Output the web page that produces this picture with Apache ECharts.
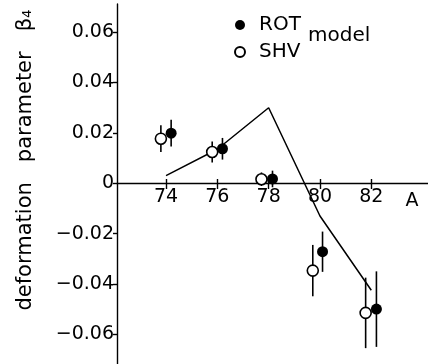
<!DOCTYPE html>
<html>
<head>
<meta charset="utf-8">
<script src="https://cdn.jsdelivr.net/npm/echarts@6/dist/echarts.min.js"></script>
<style>
  html, body { margin: 0; padding: 0; background: #fff; }
  #chart { width: 428px; height: 364px; }
</style>
</head>
<body>
<div id="chart"></div>
<script>
// tick positions
var xTicks = [74, 76, 78, 80, 82];
var yTicks = [-0.06, -0.04, -0.02, 0, 0.02, 0.04, 0.06];

// ROT model (filled circles)
var rotX = [74.2, 76.2, 78.15, 80.1, 82.2];
var rotY = [0.0199, 0.0137, 0.0017, -0.0272, -0.0500];
var rotErr = [0.0053, 0.0043, 0.0033, 0.0080, 0.0150];

// SHV model (open circles)
var shvX = [73.8, 75.8, 77.72, 79.72, 81.78];
var shvY = [0.0177, 0.0124, 0.0016, -0.0347, -0.0515];
var shvErr = [0.0053, 0.0042, 0.0027, 0.0102, 0.0140];

// calculated line
var modelX = [74, 76, 78, 80, 82];
var modelY = [0.0030, 0.0135, 0.0300, -0.0130, -0.0425];

var FONT = 'DejaVu Sans';
var Y_MIN = -0.0718, Y_MAX = 0.0712;
var GRID_TOP = 4, GRID_H = 360;
// x axis sits on y = 0, so lift it from the grid bottom
var zeroLift = -Math.round(GRID_H * (0 - Y_MIN) / (Y_MAX - Y_MIN));

function pairs(xs, ys) {
  return xs.map(function (x, i) { return [x, ys[i]]; });
}
function bars(xs, ys, es) {
  return xs.map(function (x, i) { return [x, ys[i] - es[i], ys[i] + es[i]]; });
}
function renderBar(params, api) {
  var lo = api.coord([api.value(0), api.value(1)]);
  var hi = api.coord([api.value(0), api.value(2)]);
  return {
    type: 'line',
    shape: { x1: lo[0], y1: lo[1], x2: hi[0], y2: hi[1] },
    style: { stroke: '#000', lineWidth: 1.6 }
  };
}

var myChart = echarts.init(document.getElementById('chart'));

myChart.setOption({
  animation: false,
  backgroundColor: '#fff',
  grid: { left: 117, right: 0, top: GRID_TOP, height: GRID_H, outerBoundsMode: 'none', containLabel: false },
  xAxis: [{
    type: 'value',
    min: 72.09,
    max: 84.21,
    offset: zeroLift,
    splitLine: { show: false },
    axisLine: { onZero: false, lineStyle: { color: '#000', width: 1.4 } },
    axisTick: { customValues: xTicks, length: 6, lineStyle: { color: '#000', width: 1.4 } },
    axisLabel: { customValues: xTicks, margin: 5, color: '#000', fontSize: 19, fontFamily: FONT }
  }, {
    // short tick stubs above the axis line
    type: 'value',
    position: 'bottom',
    min: 72.09,
    max: 84.21,
    offset: zeroLift,
    splitLine: { show: false },
    axisLine: { show: false, onZero: false },
    axisTick: { customValues: xTicks, inside: true, length: 4, lineStyle: { color: '#000', width: 1.4 } },
    axisLabel: { show: false }
  }],
  yAxis: {
    type: 'value',
    min: Y_MIN,
    max: Y_MAX,
    splitLine: { show: false },
    axisLine: { onZero: false, lineStyle: { color: '#000', width: 1.4 } },
    axisTick: { customValues: yTicks, length: 4, lineStyle: { color: '#000', width: 1.4 } },
    axisLabel: {
      customValues: yTicks,
      margin: 3,
      color: '#000',
      fontSize: 19,
      fontFamily: FONT,
      formatter: function (v) {
        if (Math.abs(v) < 1e-9) return '0';
        return (v < 0 ? '\u2212' : '') + Math.abs(v).toFixed(2);
      }
    }
  },
  legend: {
    data: ['ROT', 'SHV'],
    orient: 'vertical',
    left: 229,
    top: 10,
    itemWidth: 10,
    itemHeight: 10,
    itemGap: 7,
    textStyle: { color: '#000', fontSize: 20, fontFamily: FONT, padding: [0, 0, 0, 9] }
  },
  graphic: [
    {
      type: 'text', left: 308, top: 26,
      style: { text: 'model', fill: '#000', font: '20px "DejaVu Sans"' }
    },
    {
      type: 'text', x: 412, y: 201,
      style: { text: 'A', fill: '#000', font: '19px "DejaVu Sans"', align: 'center', verticalAlign: 'middle' }
    },
    {
      type: 'text', x: 26, y: 160, rotation: Math.PI / 2,
      style: {
        text: 'deformation   parameter   \u03b2\u2084',
        fill: '#000', font: '21px "DejaVu Sans"', align: 'center', verticalAlign: 'middle'
      }
    }
  ],
  series: [
    {
      name: 'model',
      type: 'line',
      data: pairs(modelX, modelY),
      showSymbol: false,
      lineStyle: { color: '#000', width: 1.5 },
      z: 2
    },
    {
      name: 'rotErr', type: 'custom', renderItem: renderBar,
      encode: { x: 0, y: [1, 2] }, data: bars(rotX, rotY, rotErr), z: 3
    },
    {
      name: 'shvErr', type: 'custom', renderItem: renderBar,
      encode: { x: 0, y: [1, 2] }, data: bars(shvX, shvY, shvErr), z: 3
    },
    {
      name: 'ROT', type: 'scatter', symbol: 'circle', symbolSize: 11,
      data: pairs(rotX, rotY),
      itemStyle: { color: '#000', opacity: 1 }, z: 4
    },
    {
      name: 'SHV', type: 'scatter', symbol: 'circle', symbolSize: 11,
      data: pairs(shvX, shvY),
      itemStyle: { color: '#fff', borderColor: '#000', borderWidth: 1.6, opacity: 1 }, z: 4
    }
  ]
});
</script>
</body>
</html>
